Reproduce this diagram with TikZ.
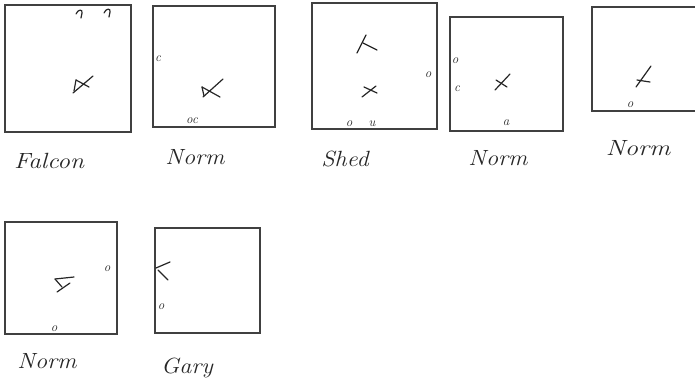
\documentclass[tikz,border=0pt]{standalone}
\begin{document}
\begin{tikzpicture}[x=1pt,y=-1pt,
  boxline/.style={draw=black!75,line width=1.3pt},
  pen/.style={draw=black!85,line width=1.2pt,line cap=round,line join=round},
  lbl/.style={font=\fontsize{22}{22}\selectfont\itshape,text=black!85,inner sep=0pt},
  mk/.style={font=\fontsize{13}{13}\selectfont\itshape,text=black!85,inner sep=0pt}]
\useasboundingbox (0,0) rectangle (695,386);
% boxes
\draw[boxline] (5,5) rectangle (131,132);
\draw[boxline] (153,6) rectangle (275,127);
\draw[boxline] (312,3) rectangle (437,129);
\draw[boxline] (450,17) rectangle (563,131);
\draw[boxline] (695,7) -- (592,7) -- (592,111) -- (695,111);
\draw[boxline] (5,222) rectangle (117,334);
\draw[boxline] (155,228) rectangle (260,333);
% labels
\node[lbl,xscale=1.15] (l1) at (49,161) {Falcon};
\node[lbl,xscale=1.1] (l2) at (195,157) {Norm};
\node[lbl,xscale=1.1] (l3) at (345,159) {Shed};
\node[lbl,xscale=1.1] (l4) at (498,158) {Norm};
\node[lbl,xscale=1.2] (l5) at (638,148) {Norm};
\node[lbl,xscale=1.1] (l6) at (47,361) {Norm};
\node[lbl,xscale=1.1] (l7) at (187,368) {Gary};
% box 1 marks
\draw[pen] (76,14) .. controls (78,9) and (83,9) .. (82,13) -- (81,18);
\draw[pen] (104,13) .. controls (106,8) and (111,8) .. (110,12) -- (109,17);
\draw[pen] (73,93) -- (93,76);
\draw[pen] (76,80) -- (89,87);
\draw[pen] (76,80) -- (74,91);
% box 2 marks
\node[mk] (m2a) at (158,59) {c};
\draw[pen] (203,97) -- (223,79);
\draw[pen] (202,87) -- (220,97);
\draw[pen] (202,87) -- (204,96);
\node[mk] (m2b) at (192,121) {oc};
% box 3 marks
\draw[pen] (357,53) -- (366,35);
\draw[pen] (363,43) -- (377,50);
\draw[pen] (362,97) -- (376,86);
\draw[pen] (364,87) -- (377,93);
\node[mk] (m3a) at (428,75) {o};
\node[mk] (m3b) at (349,124) {o};
\node[mk] (m3c) at (372,124) {u};
% box 4 marks
\node[mk] (m4a) at (455,61) {o};
\node[mk] (m4b) at (457,89) {c};
\draw[pen] (495,90) -- (510,74);
\draw[pen] (496,80) -- (507,87);
\node[mk] (m4c) at (506,123) {a};
% box 5 marks
\draw[pen] (636,87) -- (651,66);
\draw[pen] (637,80) -- (650,82);
\node[mk] (m5a) at (630,105) {o};
% box 6 marks
\draw[pen] (55,279) -- (74,277);
\draw[pen] (57,292) -- (70,283);
\draw[pen] (55,279) -- (62,287);
\node[mk] (m6a) at (107,269) {o};
\node[mk] (m6b) at (54,329) {o};
% box 7 marks
\draw[pen] (156,268) -- (170,262);
\draw[pen] (158,270) -- (168,280);
\node[mk] (m7a) at (161,307) {o};
\end{tikzpicture}
\end{document}
